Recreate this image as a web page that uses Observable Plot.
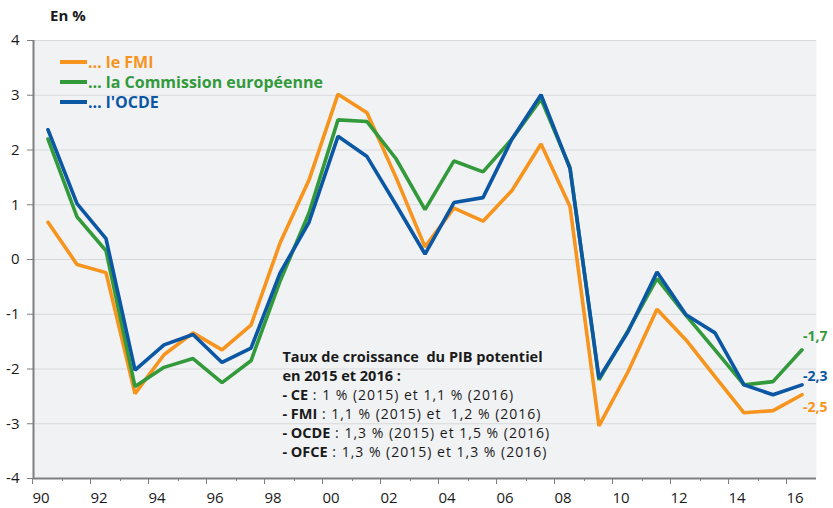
<!DOCTYPE html>
<html>
<head>
<meta charset="utf-8">
<script src="https://cdn.jsdelivr.net/npm/d3@7"></script>
<script src="https://cdn.jsdelivr.net/npm/@observablehq/plot@0.6"></script>
<style>
  body { margin: 0; background: #ffffff; }
  #chart svg { display: block; overflow: visible; }
</style>
</head>
<body>
<div id="chart"></div>
<script>
// ---- Data ----
const years = d3.range(1990, 2017);
const fmi  = [0.68, -0.09, -0.24, -2.45, -1.74, -1.34, -1.65, -1.20, 0.30, 1.45,
              3.02, 2.68, 1.50, 0.23, 0.94, 0.70, 1.26, 2.11, 0.97, -3.04,
              -2.05, -0.91, -1.47, -2.14, -2.80, -2.76, -2.47];
const ce   = [2.20, 0.78, 0.16, -2.32, -1.97, -1.81, -2.25, -1.85, -0.40, 0.85,
              2.55, 2.52, 1.84, 0.91, 1.80, 1.60, 2.20, 2.93, 1.68, -2.20,
              -1.30, -0.35, -1.02, -1.65, -2.29, -2.23, -1.65];
const ocde = [2.37, 1.02, 0.38, -2.02, -1.56, -1.37, -1.88, -1.62, -0.25, 0.68,
              2.25, 1.88, 1.00, 0.10, 1.04, 1.13, 2.20, 3.01, 1.66, -2.17,
              -1.32, -0.23, -1.01, -1.34, -2.29, -2.47, -2.29];
const seriesNames  = ["… le FMI", "… la Commission européenne", "… l'OCDE"];
const seriesColors = ["#f7941d", "#339a3c", "#0b57a4"];
const endLabels    = ["-2,5", "-1,7", "-2,3"];
const yTicks = d3.range(-4, 5);
const xMajorTicks = d3.range(1990, 2017, 2);
const xMinorTicks = d3.range(1991, 2017, 2);
const title = "En %";
const noteLines = [
  [["Taux de croissance  du PIB potentiel", true]],
  [["en 2015 et 2016 :", true]],
  [["- CE", true], [" : 1 % (2015) et 1,1 % (2016)", false]],
  [["- FMI", true], [" : 1,1 % (2015) et  1,2 % (2016)", false]],
  [["- OCDE", true], [" : 1,3 % (2015) et 1,5 % (2016)", false]],
  [["- OFCE", true], [" : 1,3 % (2015) et 1,3 % (2016)", false]]
];

const allSeries = [fmi, ce, ocde];
const rows = allSeries.flatMap((vals, s) =>
  vals.map((v, i) => ({year: years[i] + 0.5, value: v, series: seriesNames[s]})));

const lineMarks = allSeries.map((vals, s) =>
  Plot.line(rows.filter(r => r.series === seriesNames[s]),
    {x: "year", y: "value", stroke: seriesColors[s], strokeWidth: 3.6, strokeLinejoin: "miter"}));

const font = "'Open Sans', Lato, sans-serif";
const endDy = [13, -13, -8];
const endMarks = allSeries.map((vals, s) =>
  Plot.text([{year: years[years.length - 1] + 0.5, value: vals[vals.length - 1], label: endLabels[s]}],
    {x: "year", y: "value", text: "label", fill: seriesColors[s], textAnchor: "start",
     dx: 1, dy: endDy[s], fontSize: 14, fontWeight: "bold"}));

const chart = Plot.plot({
  width: 833,
  height: 508,
  marginLeft: 33,
  marginRight: 17,
  marginTop: 40,
  marginBottom: 30,
  style: {fontFamily: font, fontSize: "14px", color: "#1a1a1a", background: "#ffffff"},
  x: {domain: [1990, 2017], label: null},
  y: {domain: [-4, 4], label: null},
  marks: [
    Plot.frame({fill: "#f1f2f4", stroke: "none"}),
    Plot.gridY(yTicks, {stroke: "#d8d9dc", strokeOpacity: 1, strokeWidth: 1.2}),
    Plot.axisY(yTicks, {tickSize: 6, tickPadding: 8, tickFormat: d => String(d), fontSize: 15, stroke: "#7f7f7f", label: null}),
    Plot.axisX(xMajorTicks, {tickSize: 6, tickPadding: 8, tickFormat: d => String(d).slice(2),
      textAnchor: "start", dx: -1, fontSize: 15, stroke: "#7f7f7f", label: null}),
    Plot.axisX(xMinorTicks, {tickSize: 3, text: null, stroke: "#7f7f7f", label: null}),
    Plot.ruleX([1990], {stroke: "#7f7f7f", strokeWidth: 2}),
    Plot.ruleY([-4], {stroke: "#7f7f7f", strokeWidth: 2}),
    ...lineMarks,
    ...endMarks
  ]
});
document.getElementById("chart").appendChild(chart);

// ---- Non-data decorations: title, legend, note ----
const svg = d3.select(chart);
const xs = chart.scale("x"), ys = chart.scale("y");

svg.append("text").attr("x", 50).attr("y", 21).attr("text-anchor", "start")
  .attr("font-family", font).attr("font-size", 15).attr("font-weight", "bold")
  .attr("fill", "#1a1a1a").text(title);

const leg = svg.append("g");
seriesNames.forEach((name, i) => {
  const y = 62 + i * 20;
  leg.append("line").attr("x1", 60).attr("x2", 87).attr("y1", y).attr("y2", y)
    .attr("stroke", seriesColors[i]).attr("stroke-width", 4);
  leg.append("text").attr("x", 88).attr("y", y + 5.5).attr("text-anchor", "start")
    .attr("font-family", font).attr("font-size", 16).attr("font-weight", "bold")
    .attr("fill", seriesColors[i]).text(name);
});

const noteX = xs.apply(1998.6), noteY = ys.apply(-1.88);
const note = svg.append("g").attr("font-family", font).attr("fill", "#1a1a1a");
noteLines.forEach((parts, i) => {
  let x = noteX;
  parts.forEach((p) => {
    const t = note.append("text").attr("text-anchor", "start")
      .attr("x", x).attr("y", noteY + i * 19.1)
      .attr("font-size", p[1] ? 14.5 : 14)
      .attr("font-weight", p[1] ? "bold" : "normal")
      .attr("letter-spacing", p[1] ? 0 : 1.0)
      .attr("xml:space", "preserve")
      .style("white-space", "pre")
      .text(p[0]);
    x += t.node().getComputedTextLength();
  });
});
</script>
</body>
</html>
